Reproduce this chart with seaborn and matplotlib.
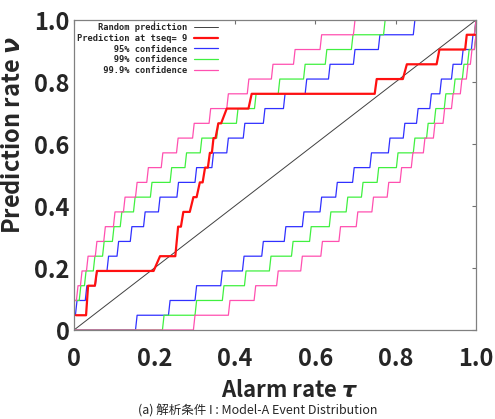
import numpy as np
import pandas as pd
import seaborn as sns
import matplotlib.pyplot as plt

n_events = 21
levels = np.arange(1, n_events + 1)

random_tau = [0.0, 1.0]
random_nu = [0.0, 1.0]

# prediction at tseq=9 : vertices (alarm rate, number of hit events)
pred_tau = [0.005, 0.030, 0.035, 0.052, 0.057, 0.198, 0.214, 0.252, 0.259, 0.266,
            0.272, 0.288, 0.297, 0.305, 0.313, 0.320, 0.326, 0.333, 0.338, 0.343,
            0.347, 0.352, 0.359, 0.366, 0.380, 0.434, 0.442, 0.748, 0.753, 0.818,
            0.828, 0.902, 0.909, 0.973, 0.977, 0.998]
pred_hits = [1, 1, 3, 3, 4, 4, 5, 5, 7, 7,
             8, 8, 9, 9, 10, 10, 11, 11, 12, 12,
             13, 13, 14, 14, 15, 15, 16, 16, 17, 17,
             18, 18, 19, 19, 20, 20]

# alarm rate at which each confidence bound reaches 1, 2, ... 21 hits
up95 = [0.0, 0.0075, 0.032, 0.057, 0.086, 0.111, 0.144, 0.177, 0.214, 0.260, 0.305,
        0.347, 0.384, 0.425, 0.475, 0.525, 0.579, 0.637, 0.699, 0.761, 0.848]
lo95 = [0.157, 0.239, 0.305, 0.369, 0.423, 0.471, 0.527, 0.572, 0.616, 0.655, 0.697,
        0.740, 0.786, 0.823, 0.856, 0.889, 0.914, 0.943, 0.968, 0.9925, 1.0]
up99 = [0.0, 0.0, 0.017, 0.030, 0.052, 0.075, 0.0995, 0.119, 0.152, 0.194, 0.243,
        0.280, 0.318, 0.359, 0.408, 0.453, 0.512, 0.575, 0.629, 0.694, 0.774]
lo99 = [0.224, 0.305, 0.373, 0.428, 0.490, 0.545, 0.590, 0.639, 0.681, 0.719, 0.758,
        0.806, 0.848, 0.881, 0.900, 0.925, 0.948, 0.970, 0.983, 1.0, 1.0]
up999 = [0.0, 0.0, 0.010, 0.020, 0.035, 0.057, 0.078, 0.102, 0.127, 0.157, 0.185,
         0.221, 0.259, 0.299, 0.340, 0.384, 0.435, 0.495, 0.550, 0.616, 0.699]
lo999 = [0.301, 0.388, 0.452, 0.508, 0.568, 0.618, 0.663, 0.706, 0.745, 0.783, 0.815,
         0.843, 0.873, 0.898, 0.922, 0.943, 0.965, 0.980, 0.990, 1.0, 1.0]

labels = ['Random prediction', 'Prediction at tseq= 9', '95% confidence',
          '99% confidence', '99.9% confidence']
colors = ['#404040', '#ff1010', '#3030ff', '#40f040', '#ff50b0']


def stair(taus, slant=0.004):
    # staircase with slightly slanted risers, like the original plot
    x, y = [0.0], [0]
    for k, t in zip(levels, taus):
        x += [max(t - slant, 0.0), t]
        y += [k - 1, k]
    x.append(1.0); y.append(n_events)
    return pd.DataFrame({'tau': x, 'nu': np.array(y) / n_events})


sns.set_theme(style='white')
plt.rcParams['font.family'] = ['Noto Sans CJK JP', 'DejaVu Sans']
plt.rcParams['mathtext.fontset'] = 'custom'
plt.rcParams['mathtext.it'] = 'DejaVu Sans:italic:bold'

fig = plt.figure(figsize=(4.95, 4.19), dpi=100)
ax = fig.add_axes([74/495, 1-330/419, 402/495, 310/419])

handles = {}
sns.lineplot(x=random_tau, y=random_nu, color=colors[0], lw=0.7, ax=ax)
handles[0] = ax.lines[-1]
for i, (up, lo) in enumerate([(up95, lo95), (up99, lo99), (up999, lo999)]):
    for part in (up, lo):
        sns.lineplot(data=stair(part), x='tau', y='nu', sort=False, estimator=None,
                     color=colors[i + 2], lw=0.9, ax=ax)
    handles[i + 2] = ax.lines[-1]
pred = pd.DataFrame({'tau': pred_tau, 'nu': np.array(pred_hits) / n_events})
sns.lineplot(data=pred, x='tau', y='nu', sort=False, estimator=None,
             color=colors[1], lw=1.6, ax=ax, zorder=5)
handles[1] = ax.lines[-1]

w = max(len(s) for s in labels)
ax.legend([handles[i] for i in range(5)], [s.rjust(w) for s in labels],
          loc='upper left', bbox_to_anchor=(0.0, 1.0), frameon=False,
          markerfirst=False, handlelength=2.75, handletextpad=0.8,
          labelspacing=0.2, borderpad=0.35, borderaxespad=0.0,
          prop={'family': 'DejaVu Sans Mono', 'weight': 'bold', 'size': 6.3})

ticks = [0, 0.2, 0.4, 0.6, 0.8, 1.0]
ticklabels = ['0', '0.2', '0.4', '0.6', '0.8', '1.0']
ax.set_xlim(0, 1); ax.set_ylim(0, 1)
ax.set_xticks(ticks, ticklabels, fontsize=17, fontweight='bold')
ax.set_yticks(ticks, ticklabels, fontsize=17, fontweight='bold')
ax.tick_params(direction='in', length=3, width=0.8, color='#707070',
               top=True, right=True, pad=3)
ax.tick_params(axis='x', pad=12)
for s in ax.spines.values():
    s.set_color('#808080'); s.set_linewidth(0.9)
ax.set_xlabel(r'Alarm rate $\tau$', fontsize=16, fontweight='bold', va='center')
ax.set_ylabel(r'Prediction rate $\nu$', fontsize=17, fontweight='bold', va='center')
ax.xaxis.set_label_coords((290-74)/402, -(390-330)/310)
ax.yaxis.set_label_coords((13-74)/402, (330-135)/310)

fig.text(138/495, 1/419, '(a) 解析条件 I : Model-A Event Distribution',
         ha='left', va='bottom', fontsize=9)

fig.savefig('out.png', dpi=100)
